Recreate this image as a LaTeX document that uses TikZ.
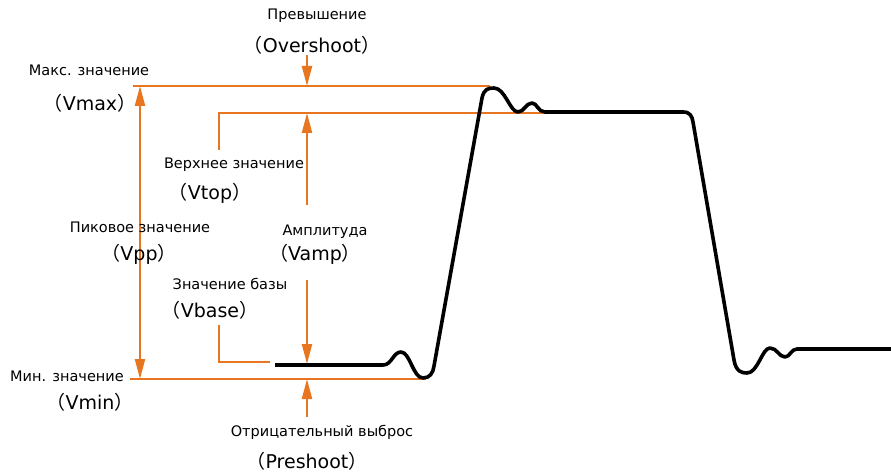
\documentclass[tikz,border=0pt]{standalone}
\usepackage{fontspec}
\setmainfont{DejaVu Sans}
\newfontfamily\cjkp{Noto Sans CJK SC}
\newcommand{\lp}{{\cjkp （}}
\newcommand{\rp}{{\cjkp ）}}
\usetikzlibrary{arrows.meta}
\definecolor{ora}{RGB}{232,118,32}
\tikzset{
  lvl/.style={draw=ora, line width=2.2pt},
  arr/.style={draw=ora, line width=2.2pt, -{Triangle[length=20pt,width=10pt]}},
  dbl/.style={draw=ora, line width=2.2pt, {Triangle[length=20pt,width=10pt]}-{Triangle[length=20pt,width=10pt]}},
  wave/.style={draw=black, line width=3.6pt, line join=round},
  small/.style={inner sep=0pt, font=\fontsize{14.5}{16}\selectfont},
  big/.style={inner sep=0pt, font=\fontsize{19}{21}\selectfont},
}
\begin{document}
\begin{tikzpicture}[x=1pt,y=-1pt]
\useasboundingbox (0,0) rectangle (891,473);
% coordinates
\coordinate (maxL) at (133,86);
\coordinate (maxR) at (490,86);
\coordinate (topS) at (219,150);
\coordinate (topC) at (219,113);
\coordinate (topR) at (550,113);
\coordinate (baseS) at (219,325);
\coordinate (baseC) at (219,362);
\coordinate (baseR) at (270,362);
\coordinate (minL) at (130,379);
\coordinate (minR) at (426,379);
\coordinate (ppB) at (140,379);
\coordinate (ppT) at (140,86);
\coordinate (ovS) at (307,55);
\coordinate (ovE) at (307,86);
\coordinate (amS) at (307,205);
\coordinate (amE) at (307,113);
\coordinate (abS) at (307,280);
\coordinate (abE) at (307,364);
\coordinate (prS) at (307,417);
\coordinate (prE) at (307,379);
% levels
\draw[lvl] (maxL) -- (maxR);
\draw[lvl] (topS) -- (topC) -- (topR);
\draw[lvl] (baseS) -- (baseC) -- (baseR);
\draw[lvl] (minL) -- (minR);
% arrows
\draw[dbl] (ppB) -- (ppT);
\draw[arr] (ovS) -- (ovE);
\draw[arr] (amS) -- (amE);
\draw[arr] (abS) -- (abE);
\draw[arr] (prS) -- (prE);
% waveform
\draw[wave] (275,365) -- (383,365)
 .. controls (392,365) and (393,352) .. (401,352)
 .. controls (410,352) and (413,378) .. (423,378)
 .. controls (430,378) and (433,373) .. (434,366)
 -- (482,98)
 .. controls (484,89) and (488,88) .. (494,88)
 .. controls (505,88) and (510,112) .. (518,112)
 .. controls (524,112) and (526,103) .. (532,103)
 .. controls (537,103) and (538,112) .. (545,112)
 -- (683,112)
 .. controls (690,112) and (692,116) .. (693,122)
 -- (734,360)
 .. controls (736,372) and (742,373) .. (747,373)
 .. controls (758,373) and (762,348) .. (770,348)
 .. controls (777,348) and (779,357) .. (785,357)
 .. controls (790,357) and (791,349) .. (797,349)
 -- (891,349);
% labels
\node[small] (ovT) at (317,16) {Превышение};
\node[big] (ovV) at (312,45) {\lp Overshoot\rp};
\node[small] (mxT) at (89,70) {Макс. значение};
\node[big] (mxV) at (90,103) {\lp Vmax\rp};
\node[small] (tpT) at (234,165) {Верхнее значение};
\node[big] (tpV) at (210,193) {\lp Vtop\rp};
\node[small] (ppTx) at (140,227) {Пиковое значение};
\node[big] (ppV) at (139,254) {\lp Vpp\rp};
\node[small] (amT) at (325,232) {Амплитуда};
\node[big] (amV) at (315,254) {\lp Vamp\rp};
\node[small] (bsT) at (230,284) {Значение базы};
\node[big] (bsV) at (210,310) {\lp Vbase\rp};
\node[small] (mnT) at (67,376) {Мин. значение};
\node[big] (mnV) at (90,402) {\lp Vmin\rp};
\node[small] (prT) at (322,432) {Отрицательный выброс};
\node[big] (prV) at (307,461) {\lp Preshoot\rp};
\end{tikzpicture}
\end{document}
